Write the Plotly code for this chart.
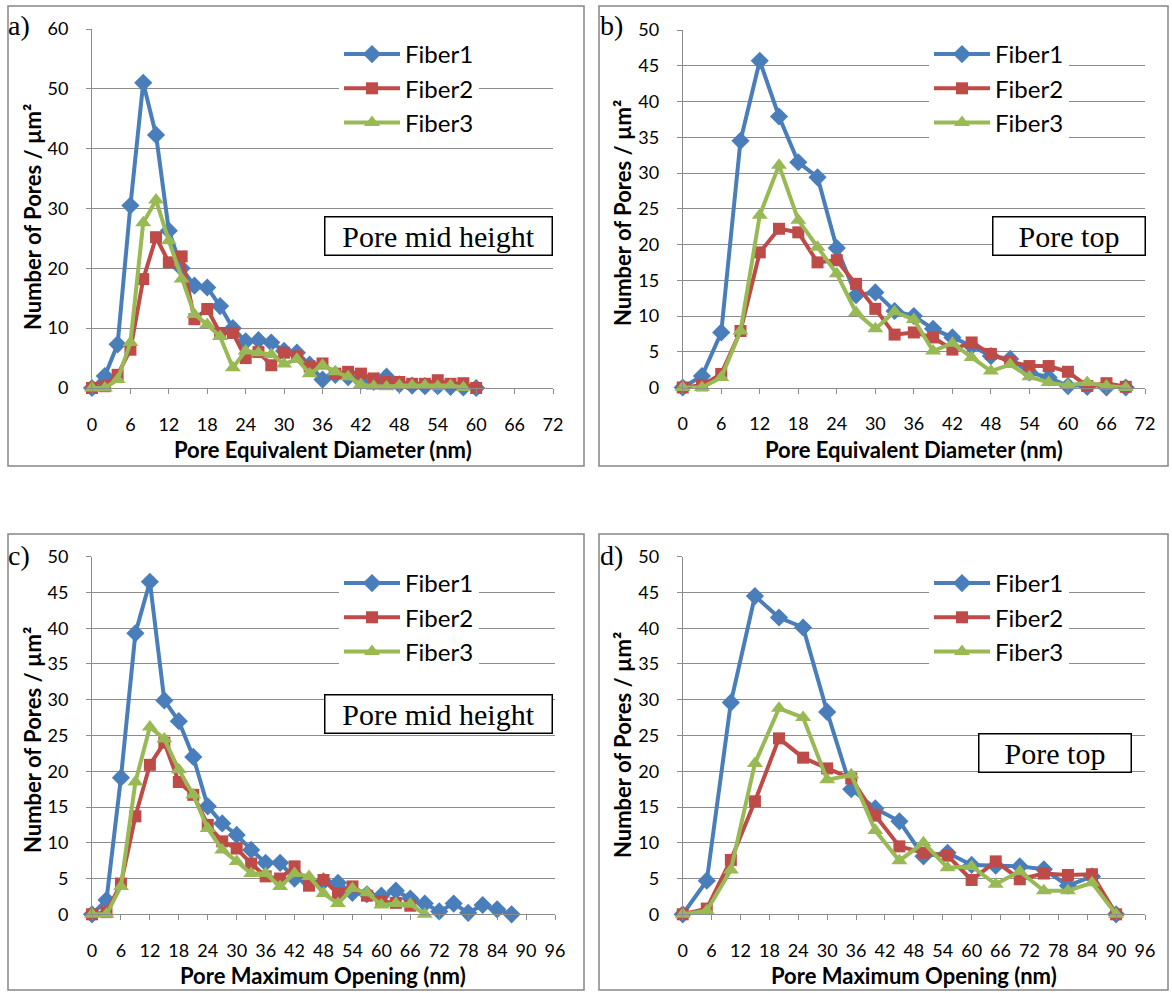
import plotly.graph_objects as go

# ---------------- data ----------------
a_x = list(range(0, 61, 2))
a_f1 = [0, 2.0, 7.3, 30.5, 51.0, 42.3, 26.3, 20.0, 17.1, 16.8, 13.7, 10.0, 7.8, 8.0, 7.6, 6.2,
        5.9, 3.9, 1.4, 2.2, 1.8, 1.2, 1.0, 1.9, 0.6, 0.4, 0.3, 0.3, 0.2, 0.1, 0]
a_f2 = [0, 0.3, 2.2, 6.4, 18.2, 25.2, 21.0, 22.0, 11.5, 13.2, 9.2, 9.2, 5.0, 6.0, 3.8, 5.9,
        5.3, 3.6, 4.1, 2.4, 2.7, 2.4, 1.6, 1.0, 1.0, 0.7, 0.7, 1.3, 0.7, 0.8, 0]
a_f3 = [0, 0, 1.4, 7.6, 27.6, 31.4, 24.6, 18.2, 12.3, 10.6, 8.6, 3.4, 6.2, 5.9, 5.6, 4.0,
        4.8, 2.4, 3.8, 2.7, 1.9, 0.6, 0.3, 0.2, 0.4, 0.4, 0.4, 0.3, 0.4, 0.1, None]

b_x = list(range(0, 70, 3))
b_f1 = [0, 1.6, 7.7, 34.5, 45.7, 37.9, 31.5, 29.4, 19.5, 12.9, 13.3, 10.7, 10.0, 8.2, 7.0, 5.8,
        4.4, 4.0, 2.1, 1.4, 0.2, 0.1, 0, 0]
b_f2 = [0, 0.3, 1.9, 7.9, 18.9, 22.2, 21.7, 17.5, 17.8, 14.5, 11.0, 7.4, 7.7, 7.0, 5.3, 6.3,
        4.7, 3.6, 3.0, 3.0, 2.2, 0.2, 0.6, 0.1]
b_f3 = [0, 0, 1.4, 7.9, 24.1, 31.1, 23.4, 19.6, 15.9, 10.5, 8.2, 10.6, 9.5, 5.1, 6.2, 4.2,
        2.3, 3.2, 1.5, 0.7, 0.3, 0.7, 0.2, 0]

c_x = list(range(0, 88, 3))
c_f1 = [0, 2.0, 19.1, 39.3, 46.5, 29.9, 27.0, 22.0, 15.1, 12.7, 11.1, 9.0, 7.2, 7.2, 5.0, 4.5,
        4.6, 4.4, 3.0, 2.8, 2.6, 3.3, 2.2, 1.5, 0.4, 1.5, 0.2, 1.3, 0.7, 0]
c_f2 = [0, 0.3, 4.3, 13.7, 20.9, 24.0, 18.5, 16.7, 12.5, 10.2, 9.2, 7.1, 5.3, 5.0, 6.7, 4.0,
        4.8, 2.9, 3.9, 2.6, 1.8, 1.6, 1.2, None, None, None, None, None, None, None]
c_f3 = [0, 0, 3.9, 18.5, 26.2, 24.5, 20.2, 16.7, 12.0, 9.0, 7.4, 5.7, 5.7, 3.9, 5.7, 5.3,
        2.9, 1.5, 3.6, 3.0, 1.3, 1.5, 1.4, 0, None, None, None, None, None, None]

d_x = list(range(0, 91, 5))
d_f1 = [0, 4.7, 29.6, 44.5, 41.5, 40.1, 28.3, 17.5, 14.8, 13.0, 8.1, 8.6, 6.9, 6.8, 6.7, 6.3,
        4.0, 5.3, 0]
d_f2 = [0, 0.8, 7.6, 15.8, 24.6, 21.9, 20.4, 19.0, 13.8, 9.5, 8.6, 8.2, 4.8, 7.4, 4.9, 5.7,
        5.5, 5.6, 0]
d_f3 = [0, 0.5, 6.2, 21.1, 28.8, 27.5, 18.8, 19.5, 11.7, 7.5, 10.0, 6.5, 6.7, 4.2, 6.0, 3.3,
        3.3, 4.4, 0]

series_names = ["Fiber1", "Fiber2", "Fiber3"]
panel_labels = ["a)", "b)", "c)", "d)"]
note_texts = ["Pore mid height", "Pore top", "Pore mid height", "Pore top"]
x_titles = ["Pore Equivalent Diameter (nm)", "Pore Equivalent Diameter (nm)",
            "Pore Maximum Opening (nm)", "Pore Maximum Opening (nm)"]
y_title = "Number of Pores / µm²"

# ---------------- styling ----------------
W, H = 1172, 993
def fx(p):
    return p / W
def fy(p):
    return 1 - p / H

colors = ["#4A7EBB", "#BE4B48", "#98B954"]
symbols = ["diamond", "square", "triangle-up"]
msizes = [14, 12, 14]
grid = "#8C8C8C"
TICKFONT = dict(family="Lato", size=18, color="black")
TITLEFONT = dict(family="Lato", size=22, color="black", weight="bold")

panels = [
    dict(x=a_x, ys=[a_f1, a_f2, a_f3], xr=72, yr=60, ydt=10,
         xd=(92, 553), yd=(388, 29), box=(8, 6, 584, 466),
         leg=(339, 32), note=(438.5, 236, 224), lab=(19, 26),
         ytit=(32, 217), xtit=(323, 449)),
    dict(x=b_x, ys=[b_f1, b_f2, b_f3], xr=72, yr=50, ydt=5,
         xd=(682.7, 1145), yd=(387.5, 30), box=(599, 6, 1168, 466),
         leg=(929, 32), note=(1068.5, 236, 149), lab=(611, 26),
         ytit=(622, 213), xtit=(914, 449)),
    dict(x=c_x, ys=[c_f1, c_f2, c_f3], xr=96, yr=50, ydt=5,
         xd=(92, 555), yd=(914.3, 556.7), box=(8, 534, 584, 990),
         leg=(339, 561), note=(438, 714, 224), lab=(19, 555),
         ytit=(32, 740), xtit=(323, 975)),
    dict(x=d_x, ys=[d_f1, d_f2, d_f3], xr=96, yr=50, ydt=5,
         xd=(682.7, 1145), yd=(914.3, 556.7), box=(599, 534, 1168, 990),
         leg=(929, 561), note=(1055, 752.5, 149), lab=(611, 555),
         ytit=(622, 745), xtit=(914, 975)),
]

fig = go.Figure()
layout = dict(width=W, height=H, margin=dict(l=0, r=0, t=0, b=0, pad=0, autoexpand=False),
              paper_bgcolor="white", plot_bgcolor="white",
              showlegend=True)
annotations = []
shapes = []

for i, p in enumerate(panels):
    n = i + 1
    xa = "x" if n == 1 else f"x{n}"
    ya = "y" if n == 1 else f"y{n}"
    legname = "legend" if n == 1 else f"legend{n}"
    for k in range(3):
        fig.add_trace(go.Scatter(
            x=p["x"], y=p["ys"][k], name=series_names[k], mode="lines+markers",
            xaxis=xa, yaxis=ya, legend=legname,
            line=dict(color=colors[k], width=4),
            marker=dict(symbol=symbols[k], size=msizes[k], color=colors[k],
                        line=dict(width=0)),
            connectgaps=False, cliponaxis=False,
        ))
    xkey = "xaxis" if n == 1 else f"xaxis{n}"
    ykey = "yaxis" if n == 1 else f"yaxis{n}"
    layout[xkey] = dict(domain=[fx(p["xd"][0]), fx(p["xd"][1])], range=[0, p["xr"]],
                        dtick=6, tick0=0, showgrid=False, zeroline=False,
                        showline=True, linecolor=grid, linewidth=1,
                        ticks="outside", ticklen=5, tickcolor=grid,
                        tickfont=TICKFONT, ticklabelstandoff=15,
                        anchor=ya, fixedrange=True, automargin=False)
    layout[ykey] = dict(domain=[fy(p["yd"][0]), fy(p["yd"][1])], range=[0, p["yr"]],
                        dtick=p["ydt"], tick0=0, showgrid=True, gridcolor=grid, gridwidth=1,
                        zeroline=False, showline=True, linecolor=grid, linewidth=1,
                        ticks="outside", ticklen=5, tickcolor=grid,
                        tickfont=TICKFONT, ticklabelstandoff=14,
                        anchor=xa, fixedrange=True, automargin=False)
    layout[legname] = dict(x=fx(p["leg"][0]), y=fy(p["leg"][1]), xanchor="left", yanchor="top",
                           bgcolor="white", borderwidth=0,
                           font=dict(family="Lato", size=24, color="black"),
                           itemwidth=56, tracegroupgap=0)
    # panel border
    x0, y0, x1, y1 = p["box"]
    shapes.append(dict(type="rect", xref="paper", yref="paper",
                       x0=fx(x0), x1=fx(x1), y0=fy(y0), y1=fy(y1),
                       line=dict(color="#878787", width=1.5), layer="below"))
    # note box
    annotations.append(dict(text=note_texts[i], xref="paper", yref="paper",
                            x=fx(p["note"][0]), y=fy(p["note"][1]),
                            xanchor="center", yanchor="middle", showarrow=False,
                            font=dict(family="Liberation Serif", size=30, color="black"),
                            bgcolor="white", bordercolor="black", borderwidth=1.5,
                            width=p["note"][2], height=35, borderpad=1))
    # panel label
    annotations.append(dict(text=panel_labels[i], xref="paper", yref="paper",
                            x=fx(p["lab"][0]), y=fy(p["lab"][1]),
                            xanchor="center", yanchor="middle", showarrow=False,
                            font=dict(family="Liberation Serif", size=28, color="black")))
    # axis titles
    annotations.append(dict(text=y_title, xref="paper", yref="paper",
                            x=fx(p["ytit"][0]), y=fy(p["ytit"][1]), textangle=-90,
                            xanchor="center", yanchor="middle", showarrow=False,
                            font=TITLEFONT))
    annotations.append(dict(text=x_titles[i], xref="paper", yref="paper",
                            x=fx(p["xtit"][0]), y=fy(p["xtit"][1]),
                            xanchor="center", yanchor="middle", showarrow=False,
                            font=TITLEFONT))

layout["annotations"] = annotations
layout["shapes"] = shapes
fig.update_layout(**layout)
fig.write_html("out.html")
